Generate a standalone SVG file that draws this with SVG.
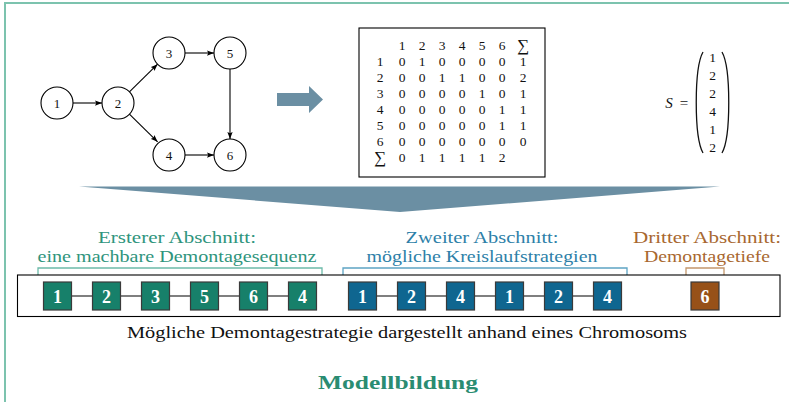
<svg xmlns="http://www.w3.org/2000/svg" width="789" height="402" viewBox="0 0 789 402">
  <defs>
    <marker id="tip" viewBox="0 0 8 6" refX="8" refY="3" markerWidth="7" markerHeight="5.5" markerUnits="userSpaceOnUse" orient="auto">
      <path d="M0,0 L8,3 L0,6 L1.5,3 Z" fill="#000"/>
    </marker>
  </defs>
  <style>
    text { font-family: 'Liberation Serif', 'DejaVu Serif', serif; }
    .node circle { fill: #fff; stroke: #000; stroke-width: 1.1; }
    .node text { font-size: 13px; text-anchor: middle; fill: #111; }
    .edge { stroke: #000; stroke-width: 1.1; fill: none; marker-end: url(#tip); }
    .mx text { font-size: 13.5px; text-anchor: middle; fill: #111; }
    .gene rect { stroke: #3a3a3a; stroke-width: 1.2; }
    .gene text { font-size: 18px; font-weight: bold; fill: #fff; text-anchor: middle; }
    .g1 rect { fill: #17806a; }
    .g2 rect { fill: #0f6690; }
    .g3 rect { fill: #975118; }
    .link { stroke: #555; stroke-width: 1.3; }
    .lbl text { font-size: 17.5px; text-anchor: middle; }
  </style>

  <!-- frame -->
  <path d="M5,402 V3 H789" fill="none" stroke="#7cc3ae" stroke-width="2"/>

  <!-- precedence graph -->
  <g id="connectors">
    <line class="edge" x1="73" y1="103" x2="102" y2="103"/>
    <line class="edge" x1="129.4" y1="91.8" x2="157.6" y2="64.2"/>
    <line class="edge" x1="129.4" y1="114.2" x2="157.6" y2="141.8"/>
    <line class="edge" x1="185" y1="53" x2="214" y2="53"/>
    <line class="edge" x1="230" y1="69" x2="230" y2="139"/>
    <line class="edge" x1="185" y1="155" x2="214" y2="155"/>
  </g>
  <g id="n1" class="node"><circle cx="57" cy="103" r="16"/><text x="57" y="107.5">1</text></g>
  <g id="n2" class="node"><circle cx="118" cy="103" r="16"/><text x="118" y="107.5">2</text></g>
  <g id="n3" class="node"><circle cx="169" cy="53" r="16"/><text x="169" y="57.5">3</text></g>
  <g id="n4" class="node"><circle cx="169" cy="155" r="16"/><text x="169" y="159.5">4</text></g>
  <g id="n5" class="node"><circle cx="230" cy="53" r="16"/><text x="230" y="57.5">5</text></g>
  <g id="n6" class="node"><circle cx="230" cy="155" r="16"/><text x="230" y="159.5">6</text></g>

  <!-- transformation arrow -->
  <polygon id="arrow-right" points="277,93 309,93 309,86 323,99.5 309,113 309,106 277,106" fill="#6b8fa3"/>

  <!-- adjacency matrix -->
  <g id="matrix">
    <rect x="359" y="28" width="186" height="149" fill="#fff" stroke="#000" stroke-width="1.1"/>
    <g class="mx">
      <text x="402" y="49.5">1</text><text x="422" y="49.5">2</text><text x="442" y="49.5">3</text><text x="462" y="49.5">4</text><text x="482" y="49.5">5</text><text x="502" y="49.5">6</text><text x="523" y="51" style="font-size:17px">∑</text>
      <text x="380" y="65.5">1</text><text x="402" y="65.5">0</text><text x="422" y="65.5">1</text><text x="442" y="65.5">0</text><text x="462" y="65.5">0</text><text x="482" y="65.5">0</text><text x="502" y="65.5">0</text><text x="523" y="65.5">1</text>
      <text x="380" y="81.5">2</text><text x="402" y="81.5">0</text><text x="422" y="81.5">0</text><text x="442" y="81.5">1</text><text x="462" y="81.5">1</text><text x="482" y="81.5">0</text><text x="502" y="81.5">0</text><text x="523" y="81.5">2</text>
      <text x="380" y="97.5">3</text><text x="402" y="97.5">0</text><text x="422" y="97.5">0</text><text x="442" y="97.5">0</text><text x="462" y="97.5">0</text><text x="482" y="97.5">1</text><text x="502" y="97.5">0</text><text x="523" y="97.5">1</text>
      <text x="380" y="113.5">4</text><text x="402" y="113.5">0</text><text x="422" y="113.5">0</text><text x="442" y="113.5">0</text><text x="462" y="113.5">0</text><text x="482" y="113.5">0</text><text x="502" y="113.5">1</text><text x="523" y="113.5">1</text>
      <text x="380" y="129.5">5</text><text x="402" y="129.5">0</text><text x="422" y="129.5">0</text><text x="442" y="129.5">0</text><text x="462" y="129.5">0</text><text x="482" y="129.5">0</text><text x="502" y="129.5">1</text><text x="523" y="129.5">1</text>
      <text x="380" y="145.5">6</text><text x="402" y="145.5">0</text><text x="422" y="145.5">0</text><text x="442" y="145.5">0</text><text x="462" y="145.5">0</text><text x="482" y="145.5">0</text><text x="502" y="145.5">0</text><text x="523" y="145.5">0</text>
      <text x="380" y="163" style="font-size:17px">∑</text><text x="402" y="161.5">0</text><text x="422" y="161.5">1</text><text x="442" y="161.5">1</text><text x="462" y="161.5">1</text><text x="482" y="161.5">1</text><text x="502" y="161.5">2</text>
    </g>
  </g>

  <!-- strategy vector S -->
  <g id="vector">
    <text x="669" y="108" font-size="15" font-style="italic" text-anchor="middle" fill="#111">S</text>
    <text x="684" y="108" font-size="15" text-anchor="middle" fill="#111">=</text>
    <path d="M703,52 C694,68 694,137 703,153" fill="none" stroke="#111" stroke-width="1.3"/>
    <path d="M722,52 C731,68 731,137 722,153" fill="none" stroke="#111" stroke-width="1.3"/>
    <g class="mx">
      <text x="712.5" y="62">1</text>
      <text x="712.5" y="80">2</text>
      <text x="712.5" y="98">2</text>
      <text x="712.5" y="116">4</text>
      <text x="712.5" y="134">1</text>
      <text x="712.5" y="152">2</text>
    </g>
  </g>

  <!-- funnel arrow -->
  <polygon id="arrow-down" points="79,186.5 720,186.5 400,212" fill="#6b8fa3"/>

  <!-- section labels -->
  <g id="sec1" class="lbl" fill="#2e947c">
    <text x="177" y="242.5" textLength="158" lengthAdjust="spacingAndGlyphs">Ersterer Abschnitt:</text>
    <text x="177" y="262" textLength="279" lengthAdjust="spacingAndGlyphs">eine machbare Demontagesequenz</text>
    <path d="M38,281 V268 H322 V281" fill="none" stroke="#6cbaa9" stroke-width="1.3"/>
  </g>
  <g id="sec2" class="lbl" fill="#2d7fa8">
    <text x="482" y="242.5" textLength="153" lengthAdjust="spacingAndGlyphs">Zweiter Abschnitt:</text>
    <text x="482" y="262" textLength="231" lengthAdjust="spacingAndGlyphs">mögliche Kreislaufstrategien</text>
    <path d="M343,281 V268 H627 V281" fill="none" stroke="#5da4c4" stroke-width="1.3"/>
  </g>
  <g id="sec3" class="lbl" fill="#a8672f">
    <text x="707" y="242.5" textLength="148" lengthAdjust="spacingAndGlyphs">Dritter Abschnitt:</text>
    <text x="707" y="262" textLength="126" lengthAdjust="spacingAndGlyphs">Demontagetiefe</text>
    <path d="M686,281 V268 H724 V281" fill="none" stroke="#c3976c" stroke-width="1.3"/>
  </g>

  <!-- chromosome -->
  <g id="chromosome">
    <rect x="17.5" y="275" width="762.5" height="41.5" fill="#fff" stroke="#000" stroke-width="1.1"/>
    <line class="link" x1="71" y1="296" x2="289" y2="296"/>
    <line class="link" x1="376" y1="296" x2="594" y2="296"/>
    <g class="gene g1"><rect x="43.5" y="282" width="28" height="28"/><text x="57.5" y="302.5">1</text></g>
    <g class="gene g1"><rect x="92.5" y="282" width="28" height="28"/><text x="106.5" y="302.5">2</text></g>
    <g class="gene g1"><rect x="141.5" y="282" width="28" height="28"/><text x="155.5" y="302.5">3</text></g>
    <g class="gene g1"><rect x="190.5" y="282" width="28" height="28"/><text x="204.5" y="302.5">5</text></g>
    <g class="gene g1"><rect x="239.5" y="282" width="28" height="28"/><text x="253.5" y="302.5">6</text></g>
    <g class="gene g1"><rect x="288.5" y="282" width="28" height="28"/><text x="302.5" y="302.5">4</text></g>
    <g class="gene g2"><rect x="348.5" y="282" width="28" height="28"/><text x="362.5" y="302.5">1</text></g>
    <g class="gene g2"><rect x="397.5" y="282" width="28" height="28"/><text x="411.5" y="302.5">2</text></g>
    <g class="gene g2"><rect x="446.5" y="282" width="28" height="28"/><text x="460.5" y="302.5">4</text></g>
    <g class="gene g2"><rect x="495.5" y="282" width="28" height="28"/><text x="509.5" y="302.5">1</text></g>
    <g class="gene g2"><rect x="544.5" y="282" width="28" height="28"/><text x="558.5" y="302.5">2</text></g>
    <g class="gene g2"><rect x="593.5" y="282" width="28" height="28"/><text x="607.5" y="302.5">4</text></g>
    <g class="gene g3"><rect x="691" y="282" width="28" height="28"/><text x="705" y="302.5">6</text></g>
  </g>

  <text id="caption" x="407" y="338" font-size="17.5" text-anchor="middle" fill="#111" textLength="560" lengthAdjust="spacingAndGlyphs">Mögliche Demontagestrategie dargestellt anhand eines Chromosoms</text>

  <text id="title" x="398" y="389" font-size="19" font-weight="bold" text-anchor="middle" fill="#2a8c72" textLength="160" lengthAdjust="spacingAndGlyphs">Modellbildung</text>
</svg>
